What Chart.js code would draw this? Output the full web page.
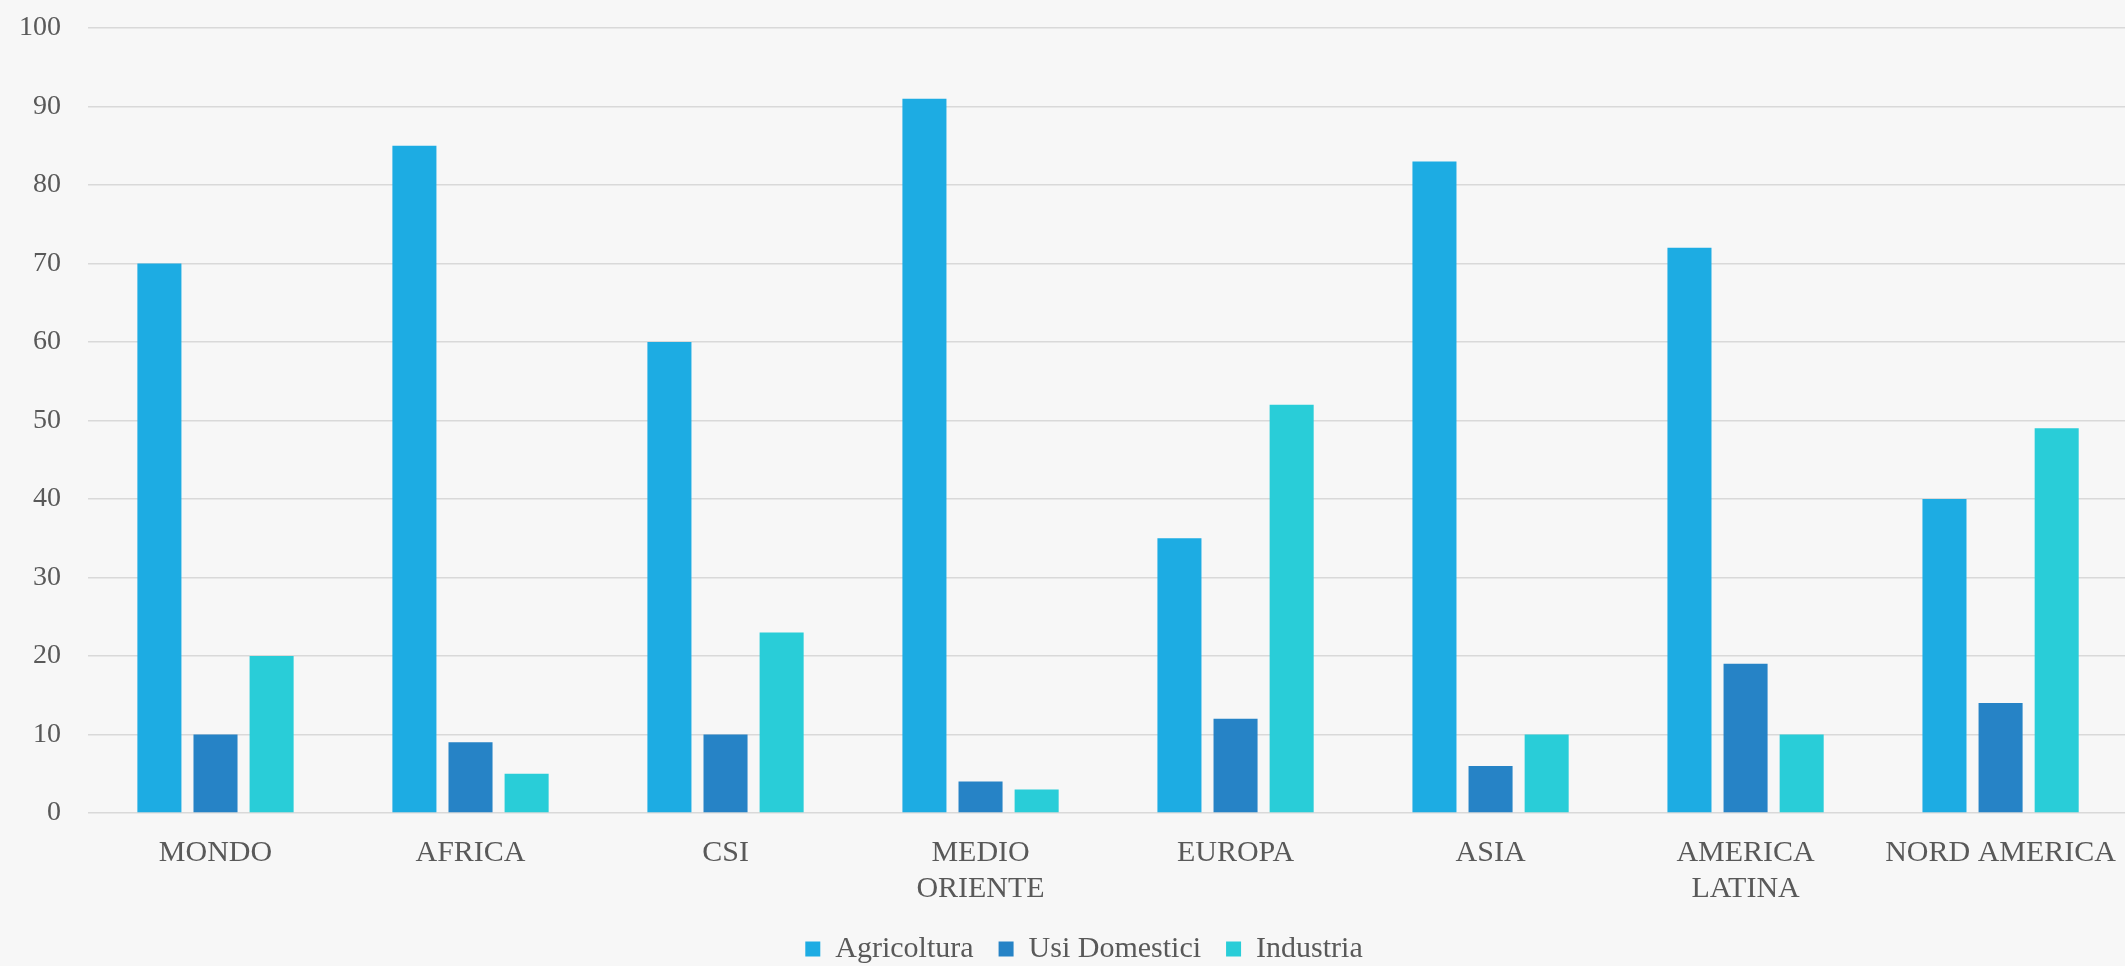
<!DOCTYPE html>
<html lang="it">
<head>
<meta charset="utf-8">
<title>Prelievi idrici per settore</title>
<script src="https://cdn.jsdelivr.net/npm/chart.js@4/dist/chart.umd.min.js"></script>
<style>
  html, body {
    margin: 0;
    padding: 0;
    overflow: hidden;
    background: #f7f7f7;
  }
  #waterChart {
    display: block;
  }
</style>
</head>
<body>
<canvas id="waterChart" width="2131" height="974"></canvas>
<script>
// regioni (le etichette su due righe vanno come array)
const regions = [
  'MONDO',
  'AFRICA',
  'CSI',
  ['MEDIO', 'ORIENTE'],
  'EUROPA',
  'ASIA',
  ['AMERICA', 'LATINA'],
  'NORD AMERICA'
];

// percentuale dei prelievi per settore
const agricoltura = [70, 85, 60, 91, 35, 83, 72, 40];
const usiDomestici = [10, 9, 10, 4, 12, 6, 19, 14];
const industria = [20, 5, 23, 3, 52, 10, 10, 49];

const yMin = 0;
const yMax = 100;
const yStep = 10;

const textColor = '#595959';
const fontFamily = '"Liberation Serif", "Times New Roman", serif';

// la legenda va centrata un po' a destra rispetto al canvas
const legendWidth = 2168;
const legendShift = {
  id: 'legendShift',
  afterLayout(chart) {
    if (chart.legend) {
      chart.legend.right = chart.legend.left + legendWidth;
    }
  },
};

const ctx = document.getElementById('waterChart');

new Chart(ctx, {
  type: 'bar',
  plugins: [legendShift],
  data: {
    labels: regions,
    datasets: [
      {
        label: 'Agricoltura',
        backgroundColor: '#1dace3',
        data: agricoltura,
      },
      {
        label: 'Usi Domestici',
        backgroundColor: '#2683c6',
        data: usiDomestici,
      },
      {
        label: 'Industria',
        backgroundColor: '#29cdd8',
        data: industria,
      },
    ],
  },
  options: {
    responsive: false,
    animation: false,
    categoryPercentage: 0.66,
    barPercentage: 0.785,
    layout: {
      padding: { top: 28, right: 0, bottom: 0, left: 0 },
    },
    plugins: {
      tooltip: { enabled: false },
      legend: {
        position: 'bottom',
        labels: {
          boxWidth: 15,
          boxHeight: 15,
          padding: 25,
          color: textColor,
          font: { family: fontFamily, size: 30 },
        },
      },
    },
    scales: {
      x: {
        grid: { display: false },
        border: { display: false },
        ticks: {
          color: textColor,
          padding: 15,
          maxRotation: 0,
          autoSkip: false,
          font: { family: fontFamily, size: 30, lineHeight: 1.17 },
        },
        afterFit: scale => {
          scale.height = 96;
        },
      },
      y: {
        min: yMin,
        max: yMax,
        border: { display: false },
        grid: {
          color: '#d9d9d9',
          lineWidth: 1.5,
          drawTicks: false,
        },
        ticks: {
          stepSize: yStep,
          color: textColor,
          padding: 27,
          font: { family: fontFamily, size: 28 },
        },
        afterFit: scale => {
          scale.width = 88;
          // il padding delle etichette non deve spostare il bordo alto
          scale.paddingTop = 17;
          scale.paddingBottom = 17;
        },
      },
    },
  },
});
</script>
</body>
</html>
